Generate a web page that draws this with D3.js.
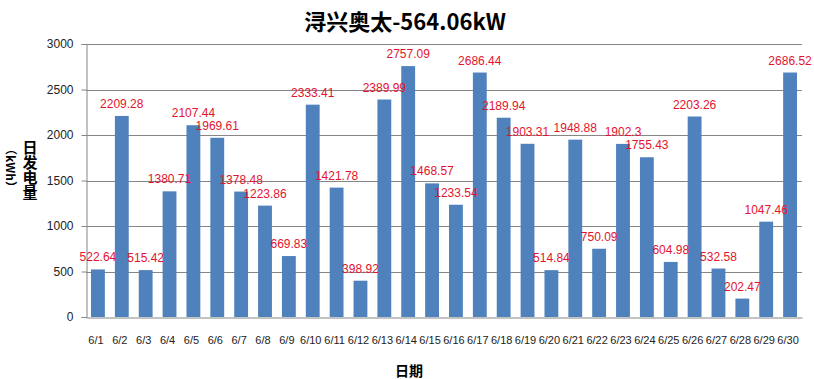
<!DOCTYPE html>
<html>
<head>
<meta charset="utf-8">
<script src="https://cdn.jsdelivr.net/npm/d3@7/dist/d3.min.js"></script>
<style>
  html, body { margin: 0; padding: 0; background: #fff; }
  svg { display: block; }
</style>
</head>
<body>
<svg id="chart" width="814" height="379"></svg>
<script>
const categories = ["6/1","6/2","6/3","6/4","6/5","6/6","6/7","6/8","6/9","6/10",
  "6/11","6/12","6/13","6/14","6/15","6/16","6/17","6/18","6/19","6/20",
  "6/21","6/22","6/23","6/24","6/25","6/26","6/27","6/28","6/29","6/30"];
const values = [522.64,2209.28,515.42,1380.71,2107.44,1969.61,1378.48,1223.86,669.83,2333.41,
  1421.78,398.92,2389.99,2757.09,1468.57,1233.54,2686.44,2189.94,1903.31,514.84,
  1948.88,750.09,1902.3,1755.43,604.98,2203.26,532.58,202.47,1047.46,2686.52];
const yTicks = [0,500,1000,1500,2000,2500,3000];
const title = "浔兴奥太-564.06kW";
const yTitle = "日发电量";
const yUnit = "（kWh）";
const xTitle = "日期";

const svg = d3.select("#chart");
const pLeft = 86, pRight = 802, pTop = 44, pBottom = 317;

const x = d3.scaleBand().domain(categories).range([pLeft, pRight]).paddingInner(0.42).paddingOuter(0.21);
const y = d3.scaleLinear().domain([0, 3000]).range([pBottom, pTop]);

const gridColor = "#868686";
const font = "'Liberation Sans', Arial, sans-serif";
const cjk = "'Noto Sans CJK SC', sans-serif";

// gridlines
svg.append("g").selectAll("line").data(yTicks.filter(d => d > 0)).join("line")
  .attr("x1", pLeft).attr("x2", pRight)
  .attr("y1", d => Math.round(y(d)) + 0.5).attr("y2", d => Math.round(y(d)) + 0.5)
  .attr("stroke", gridColor).attr("stroke-width", 1);

// y axis
const yAxis = svg.append("g").attr("transform", `translate(${pLeft + 0.5},0)`)
  .call(d3.axisLeft(y).tickValues(yTicks).tickSize(5).tickPadding(8).tickFormat(d3.format("d")));
yAxis.select(".domain").attr("stroke", gridColor);
yAxis.selectAll(".tick line").attr("stroke", gridColor);
yAxis.selectAll("text").attr("font-family", font).attr("font-size", 12).attr("fill", "#222");

// bars
svg.append("g").selectAll("rect").data(values).join("rect")
  .attr("x", (d, i) => x(categories[i]))
  .attr("width", x.bandwidth())
  .attr("y", d => y(d))
  .attr("height", d => pBottom - y(d))
  .attr("fill", "#4f81bd");

// x axis
const xAxis = svg.append("g").attr("transform", `translate(0,${pBottom + 0.5})`)
  .call(d3.axisBottom(x).tickSize(0).tickPadding(19));
xAxis.select(".domain").attr("stroke", gridColor);
xAxis.selectAll("text").attr("font-family", font).attr("font-size", 11).attr("fill", "#222")
  .attr("dx", -2);

// value labels
svg.append("g").selectAll("text").data(values).join("text")
  .attr("x", (d, i) => x(categories[i]) + x.bandwidth() / 2)
  .attr("y", d => y(d) - 8)
  .attr("text-anchor", "middle")
  .attr("font-family", font).attr("font-size", 12)
  .attr("fill", "#e3132d")
  .text(d => String(d));

// title
svg.append("text").attr("x", 405).attr("y", 30).attr("text-anchor", "middle")
  .attr("font-family", cjk).attr("font-weight", "bold")
  .attr("font-size", 22).attr("fill", "#000").text(title);

// y title stacked vertically
svg.append("text").attr("x", 30).attr("y", 140)
  .style("writing-mode", "vertical-rl").style("text-orientation", "upright")
  .attr("font-family", cjk).attr("font-weight", "bold")
  .attr("font-size", 15).attr("fill", "#000").text(yTitle);
svg.append("text").attr("transform", "translate(6,168) rotate(90)")
  .attr("text-anchor", "middle")
  .attr("font-family", cjk).attr("font-weight", "bold")
  .attr("font-size", 12).attr("fill", "#000").text(yUnit);

// x title
svg.append("text").attr("x", 409).attr("y", 376).attr("text-anchor", "middle")
  .attr("font-family", cjk).attr("font-weight", "bold")
  .attr("font-size", 14).attr("fill", "#000").text(xTitle);
</script>
</body>
</html>
